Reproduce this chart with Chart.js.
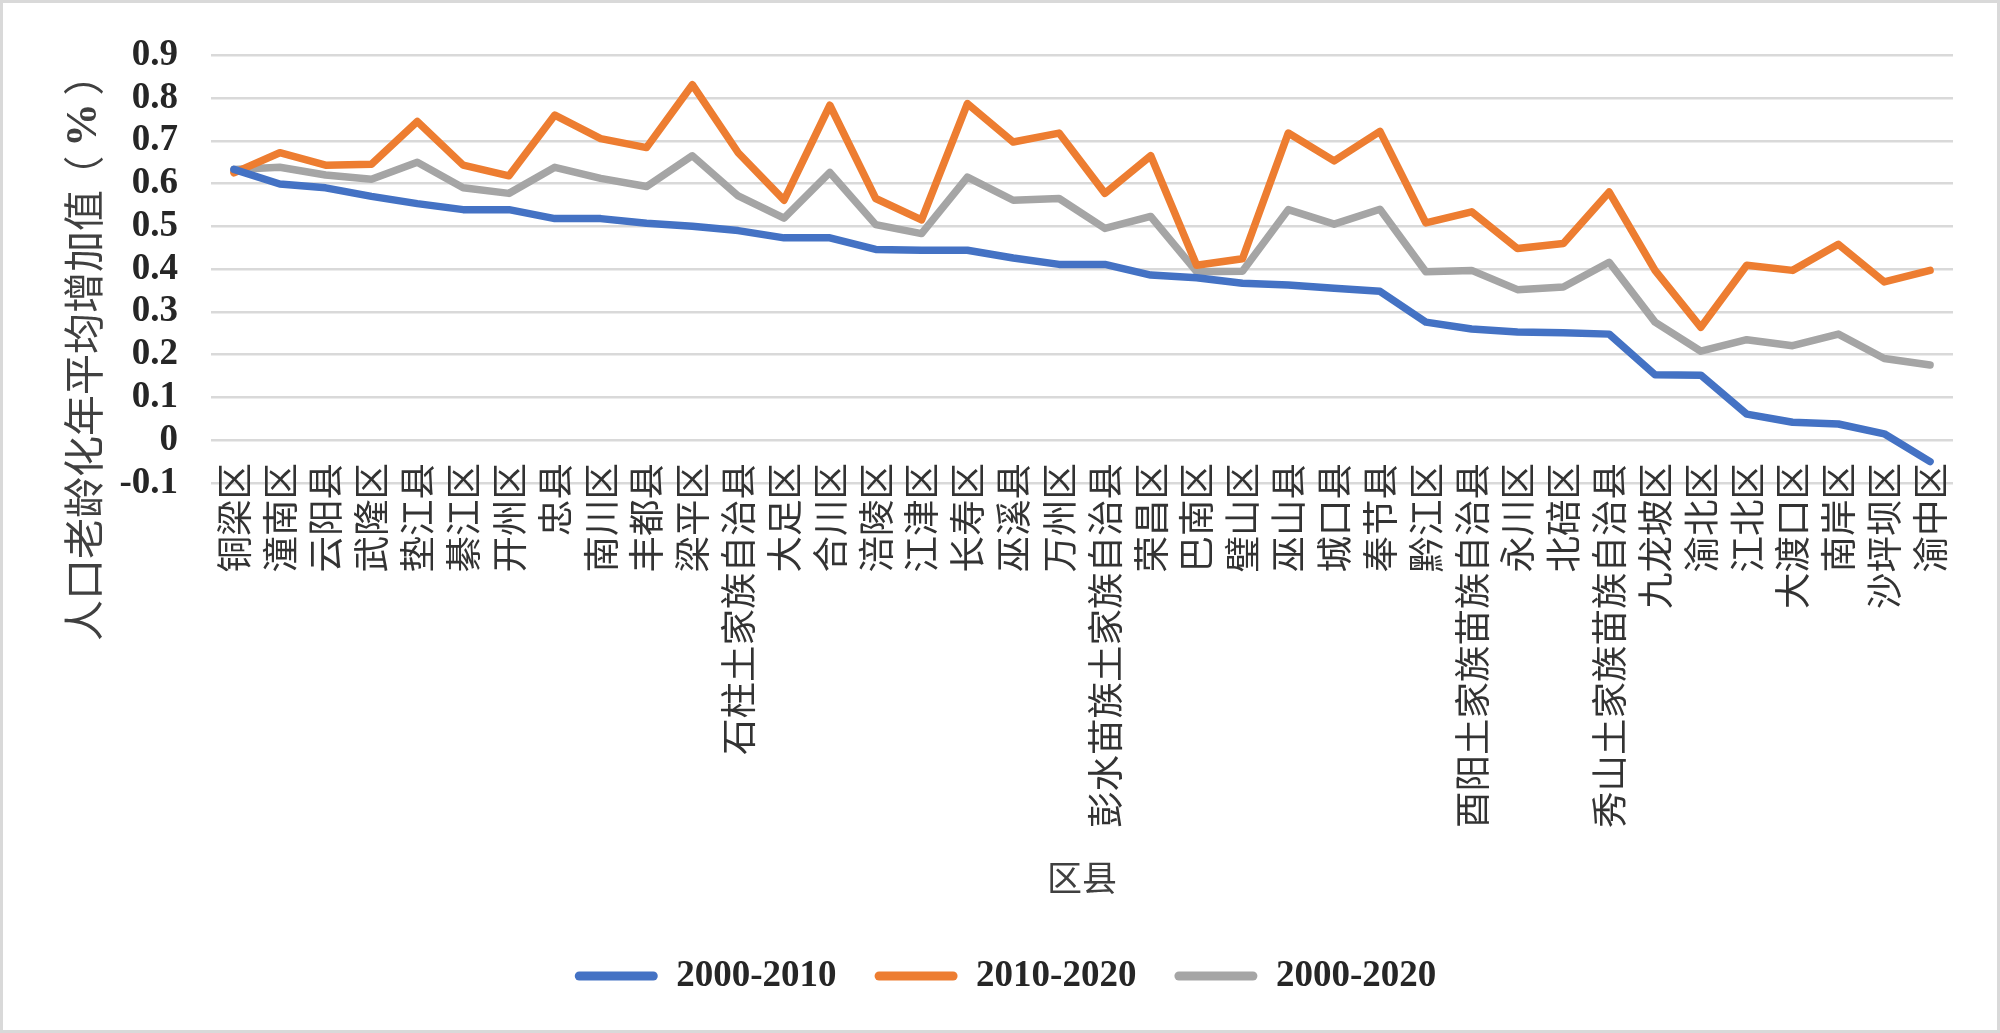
<!DOCTYPE html>
<html>
<head>
<meta charset="utf-8">
<script src="https://cdn.jsdelivr.net/npm/chart.js@4.4.1/dist/chart.umd.min.js"></script>
<style>
html, body { margin: 0; padding: 0; background: #fff; }
#wrap { width: 2000px; height: 1033px; position: relative; }
</style>
</head>
<body>
<div id="wrap"><canvas id="chart"></canvas></div>
<script>
// districts, left to right
const districts = [
  "铜梁区", "潼南区", "云阳县", "武隆区", "垫江县", "綦江区", "开州区", "忠县",
  "南川区", "丰都县", "梁平区", "石柱土家族自治县", "大足区", "合川区", "涪陵区",
  "江津区", "长寿区", "巫溪县", "万州区", "彭水苗族土家族自治县", "荣昌区", "巴南区",
  "璧山区", "巫山县", "城口县", "奉节县", "黔江区", "酉阳土家族苗族自治县", "永川区",
  "北碚区", "秀山土家族苗族自治县", "九龙坡区", "渝北区", "江北区", "大渡口区",
  "南岸区", "沙坪坝区", "渝中区"
];

// series values
const s2000_2010 = [
  0.633, 0.599, 0.590, 0.570, 0.553, 0.539, 0.539, 0.518, 0.518, 0.507, 0.500,
  0.490, 0.473, 0.473, 0.446, 0.444, 0.444, 0.426, 0.411, 0.411, 0.386, 0.380,
  0.367, 0.363, 0.355, 0.348, 0.276, 0.260, 0.253, 0.251, 0.248, 0.153, 0.152,
  0.061, 0.042, 0.038, 0.015, -0.050
];
const s2010_2020 = [
  0.625, 0.672, 0.643, 0.645, 0.745, 0.643, 0.618, 0.760, 0.705, 0.684, 0.831,
  0.672, 0.561, 0.783, 0.565, 0.515, 0.787, 0.697, 0.718, 0.577, 0.665, 0.409,
  0.424, 0.718, 0.653, 0.722, 0.508, 0.534, 0.448, 0.460, 0.580, 0.397, 0.264,
  0.409, 0.397, 0.458, 0.370, 0.397
];
const s2000_2020 = [
  0.633, 0.638, 0.620, 0.610, 0.650, 0.590, 0.577, 0.638, 0.612, 0.593, 0.665,
  0.571, 0.519, 0.626, 0.504, 0.483, 0.615, 0.561, 0.565, 0.495, 0.523, 0.394,
  0.395, 0.539, 0.505, 0.540, 0.394, 0.397, 0.352, 0.358, 0.416, 0.276, 0.208,
  0.235, 0.221, 0.248, 0.191, 0.176
];

const seriesNames = ["2000-2010", "2010-2020", "2000-2020"];
const seriesColors = ["#4472C4", "#ED7D31", "#A5A5A5"];
const yTitle = "人口老龄化年平均增加值";
const yUnit = ["（", "%", "）"];
const xTitle = "区县";

const frame = {
  id: "frame",
  beforeDraw(chart) {
    const c = chart.ctx;
    c.save();
    c.fillStyle = "#fff";
    c.fillRect(0, 0, chart.width, chart.height);
    c.strokeStyle = "#d9d9d9";
    c.lineWidth = 3;
    c.strokeRect(1.5, 1.5, chart.width - 3, chart.height - 3);
    c.restore();
  },
  afterDraw(chart) {
    const c = chart.ctx;
    const xs = chart.scales.x;

    // x tick labels turned 90deg, ending just above the -0.1 line
    // (drawn here because the axis clips its labels to its own box)
    c.save();
    c.fillStyle = "#333";
    c.font = '36.5px "Noto Sans CJK SC"';
    c.textAlign = "right";
    c.textBaseline = "middle";
    districts.forEach((name, i) => {
      c.save();
      c.translate(xs.getPixelForTick(i), 463);
      c.rotate(-Math.PI / 2);
      c.fillText(name, 0, 0);
      c.restore();
    });
    c.restore();

    // rotated y title, running up from the bottom
    c.save();
    c.translate(83, 641);
    c.rotate(-Math.PI / 2);
    c.fillStyle = "#404040";
    c.textBaseline = "middle";
    c.textAlign = "left";
    c.font = '41px "Noto Sans CJK SC"';
    c.fillText(yTitle, 0, 0);
    c.textAlign = "center";
    c.fillText(yUnit[0], 465, 0);
    c.fillText(yUnit[2], 566, 0);
    c.font = 'bold 44px "Liberation Serif"';
    c.fillText(yUnit[1], 516, 2);
    c.restore();
  }
};

const line = (i, data) => ({
  label: seriesNames[i],
  data: data,
  borderColor: seriesColors[i],
  backgroundColor: seriesColors[i],
  borderWidth: 7.5,
  borderCapStyle: "round",
  borderJoinStyle: "round",
  pointRadius: 0,
  tension: 0
});

const ctx = document.getElementById("chart").getContext("2d");
new Chart(ctx, {
  type: "line",
  data: {
    labels: districts,
    datasets: [line(0, s2000_2010), line(1, s2010_2020), line(2, s2000_2020)]
  },
  options: {
    responsive: true,
    maintainAspectRatio: false,
    animation: false,
    layout: { padding: { left: 58, right: 47, top: 47, bottom: 28.5 } },
    plugins: {
      tooltip: { enabled: false },
      legend: {
        position: "bottom",
        labels: {
          boxWidth: 83,
          boxHeight: 9,
          padding: 38,
          color: "#262626",
          useBorderRadius: true,
          borderRadius: 4.5,
          font: { family: "'Liberation Serif'", size: 37, weight: "bold" },
          generateLabels: chart => Chart.defaults.plugins.legend.labels.generateLabels(chart)
            .map(l => Object.assign(l, { fillStyle: l.strokeStyle, lineWidth: 0, borderRadius: 4.5 }))
        }
      }
    },
    scales: {
      x: {
        offset: true,
        grid: { display: false, drawTicks: false },
        border: { display: false },
        ticks: { display: false, autoSkip: false, maxRotation: 0, minRotation: 0 },
        title: {
          display: true,
          text: xTitle,
          color: "#404040",
          padding: { top: 0, bottom: 21 },
          font: { family: "'Noto Sans CJK SC'", size: 35 }
        },
        afterFit: s => { s.height = 436.5; }
      },
      y: {
        min: -0.1,
        max: 0.9,
        grid: { color: "#d9d9d9", lineWidth: 2.5, drawTicks: false },
        border: { display: false },
        ticks: {
          stepSize: 0.1,
          autoSkip: false,
          padding: 33,
          color: "#262626",
          font: { family: "'Liberation Serif'", size: 37, weight: "bold" },
          callback: v => String(Number(v.toFixed(1)))
        },
        afterFit: s => { s.width = 153; }
      }
    }
  },
  plugins: [frame]
});
</script>
</body>
</html>
